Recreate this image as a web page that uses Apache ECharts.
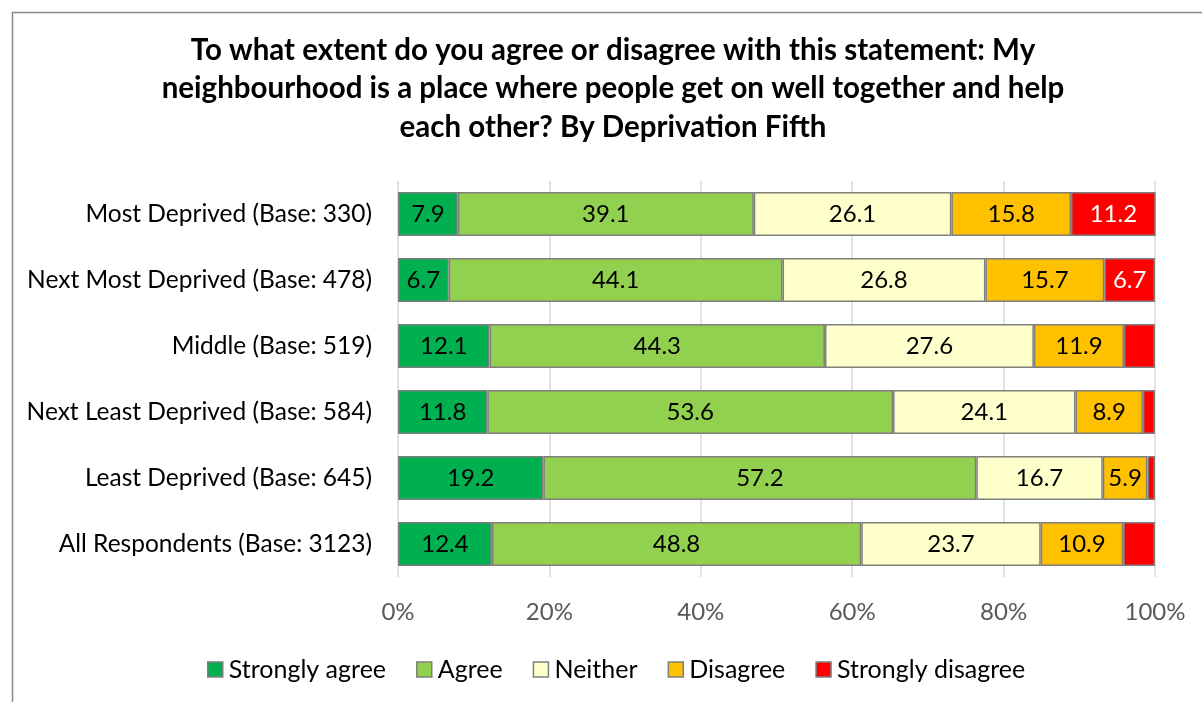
<!DOCTYPE html>
<html><head><meta charset="utf-8">
<script src="https://cdn.jsdelivr.net/npm/echarts@6/dist/echarts.min.js"></script>
<style>html,body{margin:0;padding:0;background:#fff}#c{width:1202px;height:702px}</style>
</head><body><div id="c"></div>
<script>
const categories = ["Most Deprived (Base: 330)","Next Most Deprived (Base: 478)","Middle (Base: 519)","Next Least Deprived (Base: 584)","Least Deprived (Base: 645)","All Respondents (Base: 3123)"];
const seriesNames = ["Strongly agree","Agree","Neither","Disagree","Strongly disagree"];
const stronglyAgree = [7.9, 6.7, 12.1, 11.8, 19.2, 12.4];
const agree = [39.1, 44.1, 44.3, 53.6, 57.2, 48.8];
const neither = [26.1, 26.8, 27.6, 24.1, 16.7, 23.7];
const disagree = [15.8, 15.7, 11.9, 8.9, 5.9, 10.9];
const stronglyDisagree = [11.2, 6.7, 4.1, 1.6, 1.0, 4.2];
const colors = ["#00B050","#92D050","#FFFFCC","#FFC000","#FF0000"];
const title = "To what extent do you agree or disagree with this statement: My\nneighbourhood is a place where people get on well together and help\neach other? By Deprivation Fifth";
const FONT = "Lato";
const FS = 24;
const values = [stronglyAgree, agree, neither, disagree, stronglyDisagree];
const series = values.map((v, i) => ({
  name: seriesNames[i], type: 'bar', stack: 'total', barWidth: '67%',
  data: v,
  itemStyle: { color: colors[i], borderColor: '#7F7F7F', borderWidth: 1.5 },
  label: { show: true, position: 'inside', fontFamily: FONT, fontSize: FS, color: i === 4 ? '#fff' : '#000',
    formatter: p => p.value >= 5 ? p.value.toFixed(1) : '' }
}));
const chart = echarts.init(document.getElementById('c'));
chart.setOption({
  animation: false,
  color: colors,
  graphic: [{ type: 'rect', left: 10, top: 10, shape: { width: 1300, height: 800 }, style: { fill: 'none', stroke: '#898989', lineWidth: 1.5 }, silent: true }],
  title: { text: title, left: 613, top: 31, textAlign: 'center', padding: 0, textStyle: { fontFamily: FONT, fontSize: 29.5, fontWeight: 'bold', color: '#000', lineHeight: 38.5, align: 'center' } },
  grid: { left: 398, right: 47, top: 181, bottom: 125, containLabel: false },
  legend: { left: 207, top: 657, padding: 0, itemWidth: 15, itemHeight: 15, itemGap: 30, icon: 'rect',
    itemStyle: { borderColor: '#7F7F7F', borderWidth: 1.5 },
    textStyle: { fontFamily: FONT, fontSize: 25, color: '#000', padding: [0,0,0,1] }, data: seriesNames },
  xAxis: { type: 'value', min: 0, max: 100, interval: 20,
    axisLabel: { formatter: '{value}%', fontFamily: FONT, fontSize: FS, color: '#595959', margin: 23 },
    splitLine: { lineStyle: { color: '#D9D9D9', width: 1.5 } }, axisLine: { show: false }, axisTick: { show: false } },
  yAxis: { type: 'category', data: categories, inverse: true,
    axisLabel: { fontFamily: FONT, fontSize: 24.5, color: '#000', margin: 26 },
    axisLine: { show: false }, axisTick: { show: false } },
  series: series
});
</script></body></html>
